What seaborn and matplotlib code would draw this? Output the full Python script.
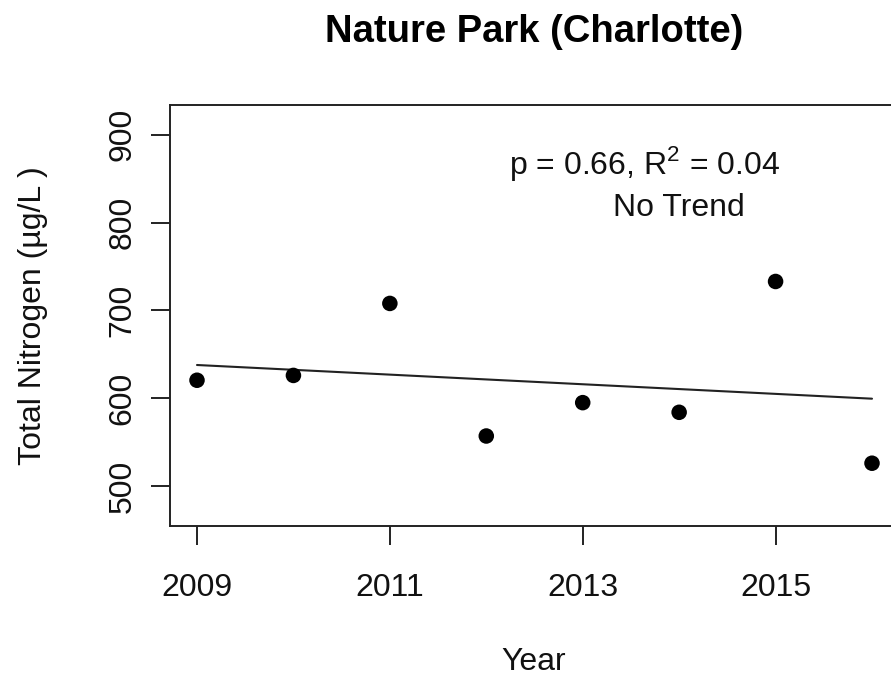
import numpy as np
import pandas as pd
import matplotlib
matplotlib.use("Agg")
import matplotlib.pyplot as plt
import seaborn as sns

# Annual mean total nitrogen, Nature Park (Charlotte)
years = [2009, 2010, 2011, 2012, 2013, 2014, 2015, 2016]
total_nitrogen = [620.5, 626, 708, 557, 595, 584, 733, 526]
x_ticks = [2009, 2011, 2013, 2015]
y_ticks = [500, 600, 700, 800, 900]

title = "Nature Park (Charlotte)"
stats_text = "p = 0.66, R$^{2}$ = 0.04"
trend_text = "No Trend"

df = pd.DataFrame({"Year": years, "TN": total_nitrogen})

sns.set_theme(style="ticks")
plt.rcParams["font.family"] = ["Liberation Sans", "DejaVu Sans"]
plt.rcParams["mathtext.fontset"] = "custom"
plt.rcParams["mathtext.rm"] = "Liberation Sans"

W, H = 891, 679
fig = plt.figure(figsize=(W / 100, H / 100), dpi=100)
left, right, top, bottom = 170, 899, 105, 526
ax = fig.add_axes([left / W, 1 - bottom / H, (right - left) / W, (bottom - top) / H])

FS = 23

sns.scatterplot(data=df, x="Year", y="TN", ax=ax, color="black", s=125,
                edgecolor="none", zorder=3, legend=False)
sns.regplot(data=df, x="Year", y="TN", ax=ax, scatter=False, ci=None,
            truncate=True, line_kws={"color": "#222222", "lw": 1.5})

ax.set_xlim(2008.72, 2016.28)
ax.set_ylim(454.5, 934)
ax.set_xticks(x_ticks)
ax.set_yticks(y_ticks)
ax.set_xticklabels([str(v) for v in x_ticks], fontsize=FS)
ax.set_yticklabels([str(v) for v in y_ticks], fontsize=FS, rotation=90, va="center")
ax.tick_params(axis="both", direction="out", length=13.5, width=1.4, color="#222222",
               labelcolor="#111111")
ax.tick_params(axis="x", pad=20)
ax.tick_params(axis="y", pad=10)
for sp in ax.spines.values():
    sp.set_linewidth(1.4)
    sp.set_color("#222222")

ax.set_xlabel("Year", fontsize=FS, color="#111111")
ax.set_ylabel("Total Nitrogen (\u00b5g/L )", fontsize=FS, color="#111111")
ax.xaxis.set_label_coords((534 - left) / (right - left), (bottom - 662) / (bottom - top))
ax.yaxis.set_label_coords((33 - left) / (right - left), 0.5)
ax.xaxis.label.set_va("center")
ax.yaxis.label.set_va("center")

ax.text(2013.64, 867, stats_text, fontsize=FS, ha="center", va="center", color="#111111")
ax.text(2014.0, 817, trend_text, fontsize=FS, ha="center", va="center", color="#111111")

fig.text(534 / W, 1 - 32 / H, title, fontsize=27.5, fontweight="bold", ha="center",
         va="center", color="#000000")

fig.savefig("out.png", dpi=100)
